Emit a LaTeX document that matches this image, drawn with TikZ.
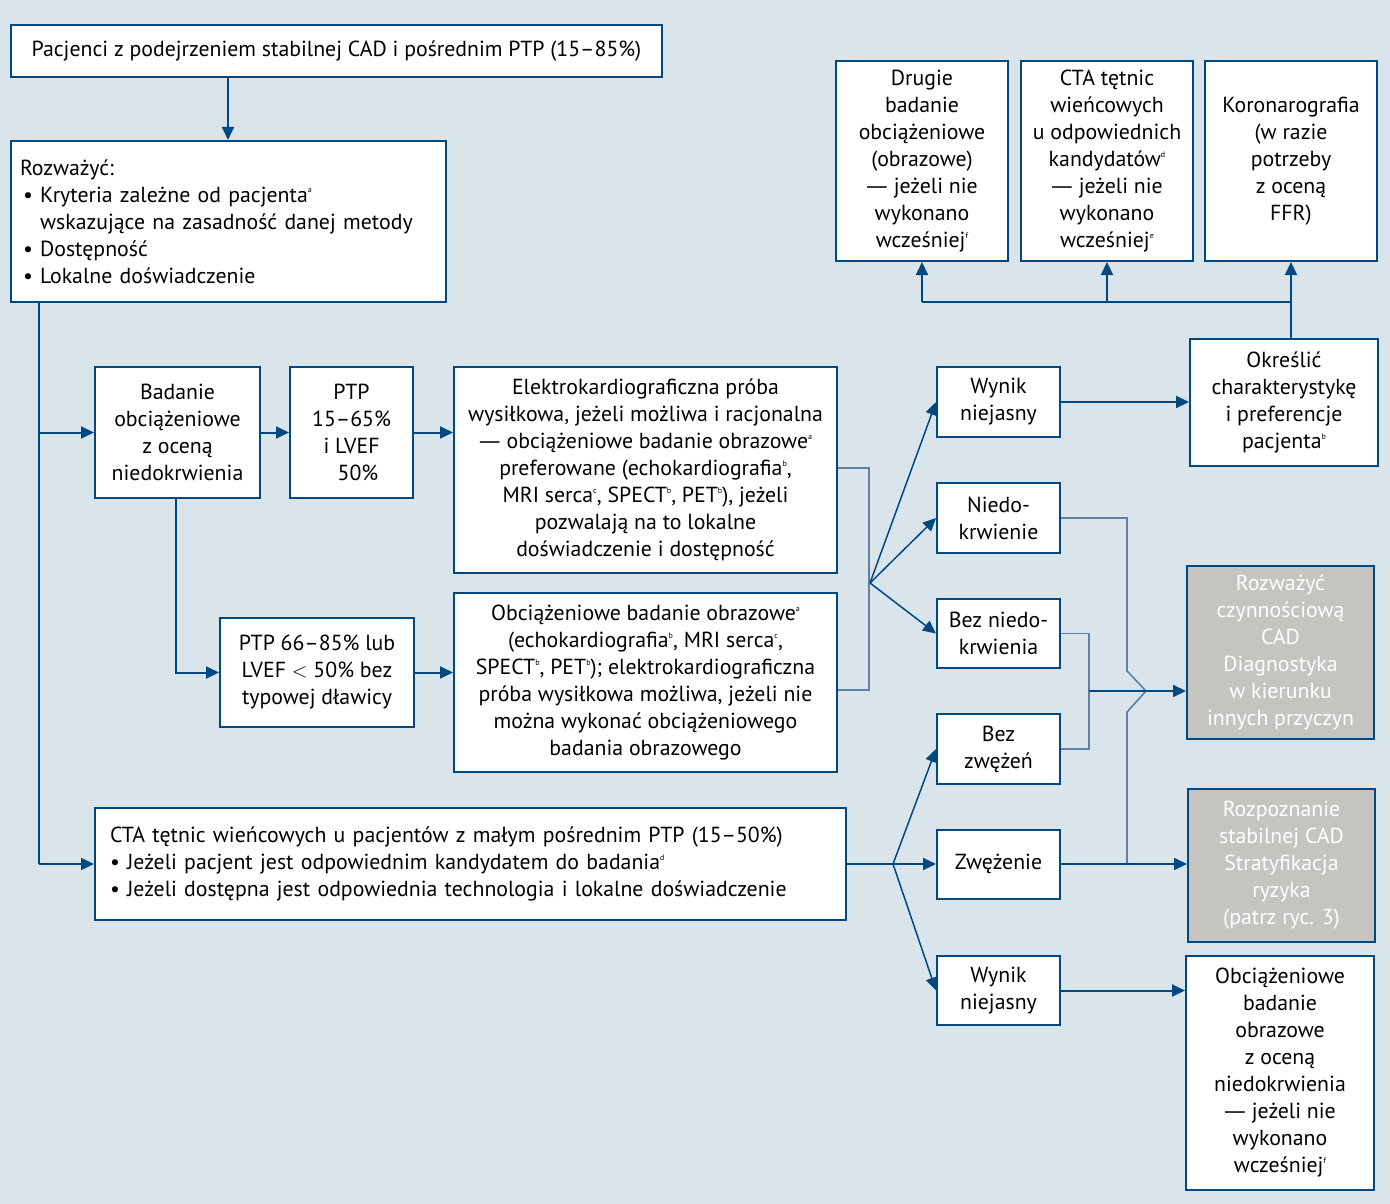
\documentclass[tikz,border=0pt]{standalone}
\usepackage{fontspec}
\setmainfont{PT Sans}
\newfontfamily\dashfont{DejaVu Sans}
\usetikzlibrary{arrows.meta,calc}
\definecolor{bg}{RGB}{218,228,235}
\definecolor{lc}{RGB}{0,72,128}
\definecolor{lcl}{RGB}{96,128,165}
\definecolor{gfill}{RGB}{198,196,192}
\newcommand\sps[1]{\raisebox{0.85ex}{\fontsize{8}{8}\selectfont #1}}
\newcommand\mdash{{\dashfont —}}
\begin{document}
\begin{tikzpicture}[x=1pt,y=-1pt,
  box/.style={draw=lc, line width=2pt, fill=white, inner sep=0pt, align=center,
    font=\fontsize{21.8}{27}\selectfont, text=black},
  lbox/.style={box, align=left},
  gbox/.style={box, fill=gfill, text=white},
  ln/.style={draw=lc, line width=2pt},
  arr/.style={ln, -{Triangle[length=13pt,width=12pt]}},
  thinarr/.style={draw=lc, line width=1.5pt, -{Triangle[length=13pt,width=12pt]}},
  thinln/.style={draw=lcl, line width=1.6pt}]
\fill[bg] (0,0) rectangle (1390,1204);
\useasboundingbox (0,0) rectangle (1390,1204);

% nodes
\node[box, minimum width=651, minimum height=52] (top) at (336.5,51)
  {Pacjenci z podejrzeniem stabilnej CAD i pośrednim PTP (15–85\%)};
\node[lbox, minimum width=435, minimum height=161, inner xsep=9pt, text width=417] (rozw) at (228.5,221.5)
  {Rozważyć:\\
   \hspace{3pt}• Kryteria zależne od pacjenta\sps{a}\\
   \hspace{3pt}\phantom{•} wskazujące na zasadność danej metody\\
   \hspace{3pt}• Dostępność\\
   \hspace{3pt}• Lokalne doświadczenie};
\node[box, minimum width=165, minimum height=131] (bad) at (177.5,432.5)
  {Badanie\\obciążeniowe\\z oceną\\niedokrwienia};
\node[box, minimum width=123, minimum height=131] (ptp) at (351.5,432.5)
  {PTP\\15–65\%\\i LVEF\\\hspace{13pt}50\%};
\node[box, minimum width=383, minimum height=206] (elek) at (645.5,470)
  {Elektrokardiograficzna próba\\
   wysiłkowa, jeżeli możliwa i racjonalna\\
   \mdash{} obciążeniowe badanie obrazowe\sps{a}\\
   preferowane (echokardiografia\sps{b},\\
   MRI serca\sps{c}, SPECT\sps{b}, PET\sps{b}), jeżeli\\
   pozwalają na to lokalne\\
   doświadczenie i dostępność};
\node[box, minimum width=194, minimum height=109] (ptpb) at (317,672.5)
  {PTP 66–85\% lub\\LVEF $<$ 50\% bez\\typowej dławicy};
\node[box, minimum width=383, minimum height=179] (obc) at (645.5,682.5)
  {Obciążeniowe badanie obrazowe\sps{a}\\
   (echokardiografia\sps{b}, MRI serca\sps{c},\\
   SPECT\sps{b}, PET\sps{b}); elektrokardiograficzna\\
   próba wysiłkowa możliwa, jeżeli nie\\
   można wykonać obciążeniowego\\
   badania obrazowego};
\node[lbox, minimum width=751, minimum height=112, inner xsep=15pt, text width=721] (cta) at (470.5,864)
  {CTA tętnic wieńcowych u pacjentów z małym pośrednim PTP (15–50\%)\\
   • Jeżeli pacjent jest odpowiednim kandydatem do badania\sps{d}\\
   • Jeżeli dostępna jest odpowiednia technologia i lokalne doświadczenie};
\node[box, minimum width=172, minimum height=200] (drug) at (922,161)
  {Drugie\\badanie\\obciążeniowe\\(obrazowe)\\\mdash{} jeżeli nie\\wykonano\\wcześniej\sps{f}};
\node[box, minimum width=172, minimum height=200] (ctat) at (1107,161)
  {CTA tętnic\\wieńcowych\\u odpowiednich\\kandydatów\sps{d}\\\mdash{} jeżeli nie\\wykonano\\wcześniej\sps{e}};
\node[box, minimum width=172, minimum height=200] (kor) at (1291,161)
  {Koronarografia\\(w razie\\potrzeby\\z oceną\\FFR)};
\node[box, minimum width=188, minimum height=127] (okr) at (1284,402.5)
  {Określić\\charakterystykę\\i preferencje\\pacjenta\sps{b}};
\node[box, minimum width=123, minimum height=70] (wa) at (998.5,402)
  {Wynik\\niejasny};
\node[box, minimum width=123, minimum height=70] (nie) at (998.5,518)
  {Niedo-\\krwienie};
\node[box, minimum width=123, minimum height=69] (bez) at (998.5,633.5)
  {Bez niedo-\\krwienia};
\node[box, minimum width=123, minimum height=70] (bzw) at (998.5,749)
  {Bez\\zwężeń};
\node[box, minimum width=123, minimum height=69] (zw) at (998.5,864)
  {Zwężenie};
\node[box, minimum width=123, minimum height=69] (wb) at (998.5,990.5)
  {Wynik\\niejasny};
\node[gbox, minimum width=187, minimum height=173] (ga) at (1280.5,652.5)
  {Rozważyć\\czynnościową\\CAD\\Diagnostyka\\w kierunku\\innych przyczyn};
\node[gbox, minimum width=187, minimum height=153] (gb) at (1281.5,865.5)
  {Rozpoznanie\\stabilnej CAD\\Stratyfikacja\\ryzyka\\(patrz ryc. 3)};
\node[box, minimum width=188, minimum height=234] (fin) at (1280,1073)
  {Obciążeniowe\\badanie\\obrazowe\\z oceną\\niedokrwienia\\\mdash{} jeżeli nie\\wykonano\\wcześniej\sps{f}};

% helper coordinates
\coordinate (x228) at (228,0);
\coordinate (x39) at (39,0);
\coordinate (x176) at (176,0);
\coordinate (y468) at (0,468);
\coordinate (y690) at (0,690);
\coordinate (br) at (869,0);
\coordinate (fa) at (870,583);
\coordinate (fb) at (893,864);
\coordinate (h302) at (0,302);
\coordinate (x1089) at (1089,0);
\coordinate (y691) at (0,691);
\coordinate (hopA) at (1127,671);
\coordinate (hopB) at (1146,691);
\coordinate (hopC) at (1127,712);

% connectors
\draw[arr] (top.south -| x228) -- (rozw.north -| x228);
\draw[ln] (rozw.south -| x39) -- (x39 |- cta.west);
\draw[arr] (x39 |- bad.west) -- (bad.west);
\draw[arr] (x39 |- cta.west) -- (cta.west);
\draw[arr] (bad.east) -- (ptp.west);
\draw[arr] (ptp.east) -- (elek.west |- ptp.east);
\draw[arr] (bad.south -| x176) |- (ptpb.west);
\draw[arr] (ptpb.east) -- (obc.west |- ptpb.east);

\draw[thinln] (elek.east |- y468) -| (br |- y690) -- (obc.east |- y690);
\draw[thinarr] (fa) -- (wa.west);
\draw[thinarr] (fa) -- (nie.west);
\draw[thinarr] (fa) -- (bez.west);

\draw[arr] (cta.east) -- (zw.west);
\draw[thinarr] (fb) -- (bzw.west);
\draw[thinarr] (fb) -- (wb.west);

\draw[arr] (wa.east) -- (okr.west |- wa.east);
\draw[ln] (okr.north -| kor.south) -- (kor.south |- h302) -- (drug.south |- h302);
\draw[arr] (drug.south |- h302) -- (drug.south);
\draw[arr] (ctat.south |- h302) -- (ctat.south);
\draw[arr] (kor.south |- h302) -- (kor.south);

\draw[thinln] (nie.east) -| (hopA) -- (hopB) -- (hopC) -- (hopC |- zw.east);
\draw[thinln] (bez.east) -| (x1089 |- bzw.east) -- (bzw.east);
\draw[arr] (x1089 |- y691) -- (ga.west |- y691);
\draw[arr] (zw.east) -- (gb.west |- zw.east);
\draw[arr] (wb.east) -- (fin.west |- wb.east);
\end{tikzpicture}
\end{document}
